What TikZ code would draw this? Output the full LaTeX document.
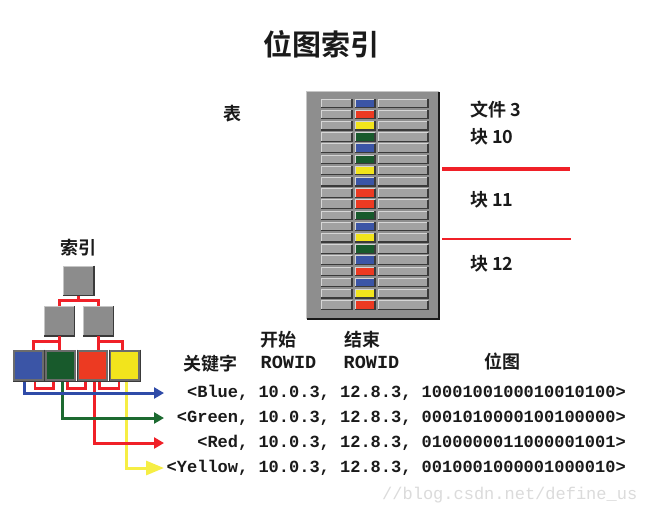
\documentclass[tikz,border=0pt]{standalone}
\usepackage{fontspec}
\setmainfont{Liberation Sans}
\setmonofont{Liberation Mono}
\newfontfamily\cjkb{Noto Sans CJK SC Bold}
\usetikzlibrary{arrows.meta,calc}
\definecolor{cb}{HTML}{3B55A6}
\definecolor{cg}{HTML}{185A2C}
\definecolor{cr}{HTML}{EC3A22}
\definecolor{cy}{HTML}{F2E41C}
\definecolor{lblue}{HTML}{2F4BA8}
\definecolor{lgreen}{HTML}{1C6A30}
\definecolor{lred}{HTML}{F02028}
\definecolor{lyellow}{HTML}{F6EE44}
\definecolor{panelgray}{HTML}{8E8E8E}
\definecolor{cellgray}{HTML}{A2A2A2}
\definecolor{hlc}{HTML}{D6D6D6}
\definecolor{shc}{HTML}{3A3A3A}
\definecolor{boxgray}{HTML}{8C8C8C}
\definecolor{txt}{HTML}{1A1A1A}
\newcommand\bev[5]{%
  \fill[#5] (#1,#2) rectangle (#3,#4);
  \draw[hlc,line width=1pt] (#1,#4) -- (#1,#2) -- (#3,#2);
  \draw[shc,line width=1.2pt] (#3,#2) -- (#3,#4) -- (#1,#4);
}
\begin{document}
\begin{tikzpicture}[x=1pt,y=-1pt,
  cjk/.style={font=\cjkb\fontsize{18}{20}\selectfont, inner sep=0, text=txt},
  titlef/.style={font=\cjkb\fontsize{29}{32}\selectfont, inner sep=0, text=txt},
  hdr/.style={font=\ttfamily\bfseries\fontsize{18.5}{20}\selectfont, inner sep=0, text=txt},
  mono/.style={font=\ttfamily\bfseries\fontsize{17}{20}\selectfont, inner sep=0, text=txt, anchor=east},
  tbox/.style={minimum width=30pt, minimum height=29pt, inner sep=0, fill=boxgray, draw=hlc!80!gray, line width=1pt},
  leaf/.style={minimum width=29pt, minimum height=29pt, inner sep=0, draw=gray!85!black, line width=2pt},
  rl/.style={draw=lred, line width=3pt},
  arr/.style={line width=3pt, -{Triangle[length=10pt,width=11pt]}},
]
\useasboundingbox[fill=white] (0,0) rectangle (648,515);

% title
\node[titlef] (title) at (321,44) {位图索引};

% table panel
\node[minimum width=132pt, minimum height=227pt, inner sep=0, fill=panelgray] (table) at (373,205.5) {};
\draw[gray!45,line width=1.2pt] (table.south west) -- (table.north west) -- (table.north east);
\draw[gray!20!black,line width=1.5pt] (table.north east) -- (table.south east) -- (table.south west);
\foreach \c [count=\i from 0] in {cb,cr,cy,cg,cb,cg,cy,cb,cr,cr,cg,cb,cy,cg,cb,cr,cb,cy,cr} {
  \pgfmathsetmacro\yt{99+11.2*\i}
  \pgfmathsetmacro\yb{\yt+8.6}
  \bev{321}{\yt}{352}{\yb}{cellgray}
  \bev{355}{\yt}{375}{\yb}{\c}
  \bev{378}{\yt}{428}{\yb}{cellgray}
}

% block separators
\coordinate (s1a) at (442,169);
\coordinate (s1b) at (570,169);
\coordinate (s2a) at (442,239);
\coordinate (s2b) at (571,239);
\draw[rl,line width=3.4pt] (s1a) -- (s1b);
\draw[rl,line width=2.8pt] (s2a) -- (s2b);

% table labels
\node[cjk] (biao) at (232,114) {表};
\node[cjk,anchor=west] (f3) at (470,110) {文件 3};
\node[cjk,anchor=west] (k10) at (470,137) {块 10};
\node[cjk,anchor=west] (k11) at (470,200) {块 11};
\node[cjk,anchor=west] (k12) at (470,264) {块 12};

% index tree
\node[cjk] (suoyin) at (78,248) {索引};
\node[tbox] (root) at (78.5,280.5) {};
\node[tbox] (na) at (59,321) {};
\node[tbox] (nb) at (98,321) {};
\foreach \n in {root,na,nb}{
  \draw[shc,line width=1.3pt] (\n.north east) -- (\n.south east) -- (\n.south west);
}

% red tree connectors (behind leaves)
\draw[rl] (root.south) -- ++(0,4.5) coordinate (j0);
\draw[rl] (na.north) |- (j0) -| (nb.north);
\draw[rl] (na.south) -- ++(0,5) coordinate (j1);
\draw[rl] (nb.south) -- ++(0,5) coordinate (j2);

\node[leaf,fill=cb] (lb) at (28,365) {};
\node[leaf,fill=cg] (lg) at (60.5,365) {};
\node[leaf,fill=cr] (lr) at (92.5,365) {};
\node[leaf,fill=cy] (ly) at (124,365) {};
\foreach \n in {lb,lg,lr,ly}{
  \draw[shc,line width=1pt] ($(\n.north east)+(1.2,0)$) -- ($(\n.south east)+(1.2,1.2)$) -- ($(\n.south west)+(0,1.2)$);
}

\draw[rl] (na.south) -- (na.south |- lg.north);
\draw[rl] (j1) -| ($(lb.north)+(5,0)$);
\draw[rl] (nb.south) -- (nb.south |- lr.north);
\draw[rl] (j2) -| ($(ly.north)+(-2,0)$);
% leaf links
\draw[rl,line width=2.6pt] ($(lb.south)+(7,1)$) -- ++(0,7) -| ($(lg.south)+(-7,1)$);
\draw[rl,line width=2.6pt] ($(lg.south)+(7,1)$) -- ++(0,7) -| ($(lr.south)+(-7,1)$);
\draw[rl,line width=2.6pt] ($(lr.south)+(7,1)$) -- ++(0,7) -| ($(ly.south)+(-5,1)$);

% arrows to key rows
\coordinate (eb) at (164,393);
\coordinate (eg) at (164,418);
\coordinate (er) at (164,443);
\coordinate (ey) at (164,468);
\draw[arr,lyellow,-{Triangle[length=18pt,width=14pt]}] ($(ly.south)+(2,1)$) |- (ey);
\draw[arr,lred] ($(lr.south)+(1.5,1)$) |- (er);
\draw[arr,lgreen] ($(lg.south)+(1.5,1)$) |- (eg);
\draw[arr,lblue] ($(lb.south)+(-4,1)$) |- (eb);

% headers
\node[cjk] (gjz) at (210,364) {关键字};
\node[cjk] (ks) at (278,340) {开始};
\node[hdr] (r1) at (288.5,362) {ROWID};
\node[cjk] (js) at (362,340) {结束};
\node[hdr] (r2) at (371.5,362) {ROWID};
\node[cjk] (wt) at (502,362) {位图};

% rows
\node[mono] (tb) at (626,393) {<Blue, 10.0.3, 12.8.3, 1000100100010010100>};
\node[mono] (tg) at (626,418) {<Green, 10.0.3, 12.8.3, 0001010000100100000>};
\node[mono] (tr) at (626,443) {<Red, 10.0.3, 12.8.3, 0100000011000001001>};
\node[mono] (ty) at (626,468) {<Yellow, 10.0.3, 12.8.3, 0010001000001000010>};

% watermark
\node[font=\ttfamily\fontsize{17}{20}\selectfont, text=gray!28, inner sep=0, anchor=west] (wm) at (382,495) {//blog.csdn.net/define\_us};
\end{tikzpicture}
\end{document}
